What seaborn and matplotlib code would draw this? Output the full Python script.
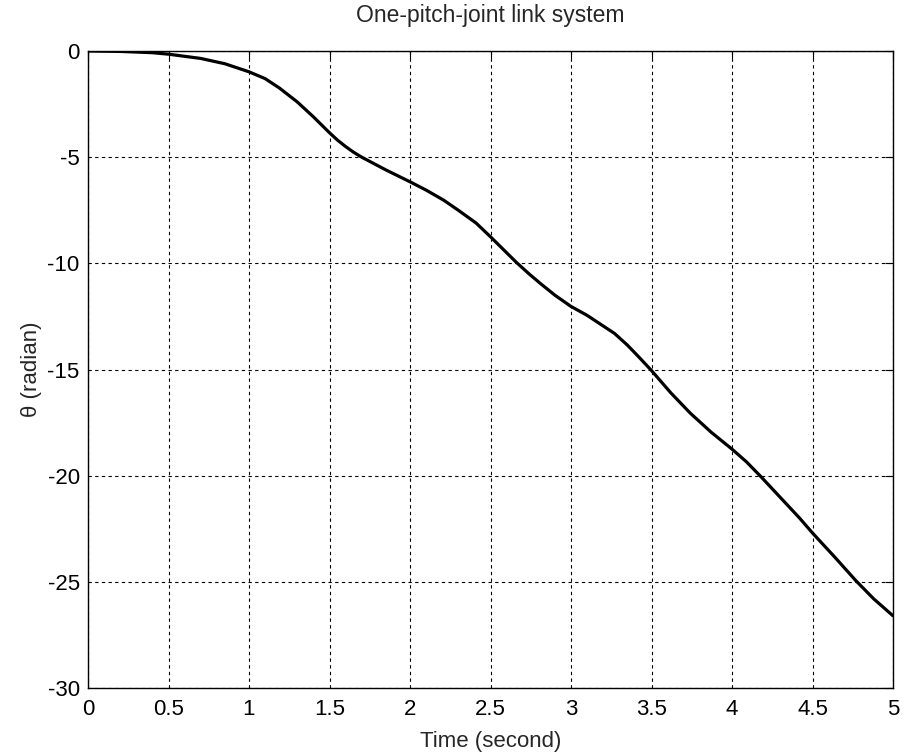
import matplotlib
matplotlib.use("Agg")
import matplotlib.pyplot as plt
import seaborn as sns
import pandas as pd

time_s = [0, 0.2, 0.4, 0.5, 0.7, 0.85, 1.0, 1.1, 1.19, 1.3, 1.4, 1.5, 1.55, 1.6, 1.65,
          1.7, 1.85, 2.0, 2.1, 2.21, 2.3, 2.41, 2.5, 2.58, 2.66, 2.74, 2.81, 2.9, 3.0,
          3.1, 3.18, 3.27, 3.35, 3.42, 3.5, 3.62, 3.74, 3.87, 4.0, 4.09, 4.18, 4.26,
          4.34, 4.42, 4.5, 4.64, 4.77, 4.88, 5.0]
theta = [0, -0.02, -0.08, -0.15, -0.35, -0.6, -0.98, -1.3, -1.75, -2.4, -3.1, -3.85,
         -4.2, -4.5, -4.77, -5.0, -5.6, -6.16, -6.55, -7.03, -7.5, -8.1, -8.75, -9.35,
         -9.95, -10.5, -10.95, -11.5, -12.03, -12.45, -12.85, -13.3, -13.85, -14.4,
         -15.05, -16.1, -17.05, -17.95, -18.75, -19.35, -20.05, -20.7, -21.35, -22.0,
         -22.7, -23.85, -24.95, -25.8, -26.6]
x_ticks = [0, 0.5, 1, 1.5, 2, 2.5, 3, 3.5, 4, 4.5, 5]
x_tick_labels = ["0", "0.5", "1", "1.5", "2", "2.5", "3", "3.5", "4", "4.5", "5"]
y_ticks = [0, -5, -10, -15, -20, -25, -30]
y_tick_labels = ["0", "-5", "-10", "-15", "-20", "-25", "-30"]

sns.set_style("white")
plt.rcParams['font.family'] = ['Liberation Sans', 'DejaVu Sans']

df = pd.DataFrame({"t": time_s, "theta": theta})

fig = plt.figure(figsize=(9.06, 7.56), dpi=100)
ax = fig.add_axes([88 / 906, 1 - 688 / 756, (893 - 88) / 906, (688 - 51) / 756])

sns.lineplot(data=df, x="t", y="theta", ax=ax, color="black", linewidth=2.3)

ax.set_xlim(0, 5)
ax.set_ylim(-30, 0)
ax.set_xticks(x_ticks)
ax.set_xticklabels(x_tick_labels)
ax.set_yticks(y_ticks)
ax.set_yticklabels(y_tick_labels)
ax.grid(True, color="black", linestyle=(0, (3, 3)), linewidth=0.8)
ax.tick_params(direction="in", length=6, width=0.8, top=True, right=True,
               labelsize=16, colors="black")
ax.tick_params(axis="x", pad=8)
ax.tick_params(axis="y", pad=6)
for s in ax.spines.values():
    s.set_color("black")
    s.set_linewidth(1.0)
    s.set_visible(True)

ax.set_title("One-pitch-joint link system", fontsize=16.5, pad=21)
ax.set_xlabel("Time (second)", fontsize=16, labelpad=8)
ax.set_ylabel("θ (radian)", fontsize=16, labelpad=4)

fig.savefig("out.png", dpi=100)
